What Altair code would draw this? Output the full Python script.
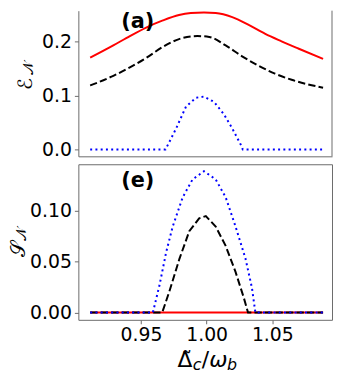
import altair as alt
import pandas as pd

# ---------------- data ----------------
top_red_x = [0.9114, 0.929, 0.9416, 0.954, 0.9667, 0.979, 0.988, 0.998, 1.0069, 1.0195, 1.032, 1.0446, 1.057, 1.0697, 1.0886]
top_red_y = [0.170, 0.1927, 0.210, 0.2258, 0.239, 0.249, 0.2525, 0.2535, 0.2526, 0.245, 0.2305, 0.214, 0.2003, 0.187, 0.1678]

top_black_x = [0.9114, 0.929, 0.9416, 0.954, 0.9667, 0.979, 0.993, 1.002, 1.0145, 1.027, 1.0396, 1.052, 1.0647, 1.0886]
top_black_y = [0.1185, 0.1364, 0.152, 0.1695, 0.190, 0.2044, 0.210, 0.2084, 0.1927, 0.1725, 0.155, 0.1404, 0.129, 0.1143]

top_blue_x = [0.9114, 0.9687, 0.9725, 0.9768, 0.9843, 0.9919, 0.998, 1.0057, 1.0132, 1.0195, 1.0258, 1.0275, 1.0886]
top_blue_y = [0.0, 0.0, 0.018, 0.0389, 0.0794, 0.0958, 0.098, 0.088, 0.065, 0.0389, 0.0098, 0.0, 0.0]

bot_red_x = [0.9114, 1.0886]
bot_red_y = [0.0, 0.0]

bot_black_x = [0.9114, 0.9662, 0.9717, 0.9793, 0.9868, 0.9943, 0.9994, 1.0069, 1.0145, 1.022, 1.0283, 1.0315, 1.0886]
bot_black_y = [0.0, 0.0, 0.021, 0.0529, 0.080, 0.0927, 0.0949, 0.0847, 0.0656, 0.040, 0.0146, 0.0, 0.0]

bot_blue_x = [0.9114, 0.9591, 0.9642, 0.9692, 0.9742, 0.9818, 0.9893, 0.998, 1.0069, 1.0145, 1.022, 1.0296, 1.0345, 1.0371, 1.0886]
bot_blue_y = [0.0, 0.0, 0.0273, 0.0593, 0.0847, 0.1134, 0.131, 0.139, 0.131, 0.1134, 0.0847, 0.0529, 0.0242, 0.0, 0.0]

x_ticks = [0.95, 1.00, 1.05]
top_y_ticks = [0.0, 0.1, 0.2]
bot_y_ticks = [0.0, 0.05, 0.10]

FONT = "DejaVu Sans"
FRAME = "#6b6b6b"
W = 256
H_TOP = 147
H_BOT = 157

x_scale = alt.Scale(domain=[0.9024, 1.0954], nice=False, zero=False)


def line(xs, ys, color, dash=None, interp="linear"):
    df = pd.DataFrame({"x": xs, "y": ys})
    kw = dict(color=color, strokeWidth=2, interpolate=interp, clip=True)
    if dash is not None:
        kw["strokeDash"] = dash
    return alt.Chart(df).mark_line(**kw)


def text(t, x, y, size, angle=0, bold=False, italic=False, align="center", baseline="middle"):
    kw = dict(text=t, font=FONT, fontSize=size, color="black", align=align, baseline=baseline)
    if angle:
        kw["angle"] = angle
    if bold:
        kw["fontWeight"] = "bold"
    if italic:
        kw["fontStyle"] = "italic"
    return alt.Chart(pd.DataFrame({"k": [0]})).mark_text(**kw).encode(x=alt.value(x), y=alt.value(y))


# ---------------- top panel ----------------
yt_scale = alt.Scale(domain=[-0.0127, 0.257], nice=False, zero=False)
x_enc_top = alt.X("x:Q", scale=x_scale,
                  axis=alt.Axis(values=x_ticks, labels=False, ticks=False, domain=True, title=None, grid=False))
y_enc_top = alt.Y("y:Q", scale=yt_scale,
                  axis=alt.Axis(values=top_y_ticks, format=".1f", title=None, grid=False, domain=True))

top_layers = [
    line(top_red_x, top_red_y, "#ff0000", interp="monotone").encode(x=x_enc_top, y=y_enc_top),
    line(top_black_x, top_black_y, "black", dash=[7.4, 3.2], interp="monotone").encode(x=x_enc_top, y=y_enc_top),
    line(top_blue_x, top_blue_y, "#0000ff", dash=[2, 3.3]).encode(x=x_enc_top, y=y_enc_top),
    alt.Chart(pd.DataFrame({"k": [0]})).mark_rule(color=FRAME, strokeWidth=1).encode(
        x=alt.value(W), y=alt.value(0), y2=alt.value(H_TOP)),
    text("(a)", 60, 0, 21, bold=True, baseline="top"),
    text("ℰ", -53, 74, 20, angle=270),
    text("𝒩", -50, 58, 14, angle=270),
]
top = alt.layer(*top_layers).properties(width=W, height=H_TOP, view=alt.ViewBackground(stroke="transparent"))

# ---------------- bottom panel ----------------
yb_scale = alt.Scale(domain=[-0.0071, 0.1459], nice=False, zero=False)
x_enc_bot = alt.X("x:Q", scale=x_scale,
                  axis=alt.Axis(values=x_ticks, format=".2f", title=None, grid=False, domain=False, labelPadding=2))
y_enc_bot = alt.Y("y:Q", scale=yb_scale,
                  axis=alt.Axis(values=bot_y_ticks, format=".2f", title=None, grid=False, domain=False))

bot_layers = [
    line(bot_red_x, bot_red_y, "#ff0000").encode(x=x_enc_bot, y=y_enc_bot),
    line(bot_black_x, bot_black_y, "black", dash=[7.4, 3.2]).encode(x=x_enc_bot, y=y_enc_bot),
    line(bot_blue_x, bot_blue_y, "#0000ff", dash=[2, 3.3]).encode(x=x_enc_bot, y=y_enc_bot),
    text("(e)", 60, 23, 21, bold=True, baseline="alphabetic"),
    text("𝒮", -60, 86, 20, angle=270),
    text("𝒩", -57, 71, 14, angle=270),
    # x-axis title  Δ̃_c / ω_b
    text("Δ\u0303", 100, 205, 22, align="left", baseline="alphabetic"),
    text("c", 115.5, 208, 16, italic=True, align="left", baseline="alphabetic"),
    text("/", 124.5, 205, 22, align="left", baseline="alphabetic"),
    text("ω", 132, 205, 22, italic=True, align="left", baseline="alphabetic"),
    text("b", 150, 208, 16, italic=True, align="left", baseline="alphabetic"),
]
bot = alt.layer(*bot_layers).properties(width=W, height=H_BOT, view=alt.ViewBackground(stroke=FRAME))

chart = alt.vconcat(top, bot, spacing=3).properties(padding=0).configure_axis(
    labelFont=FONT, labelFontSize=19, labelColor="black", tickColor=FRAME, domainColor=FRAME,
    tickSize=4, labelPadding=3, tickWidth=1, domainWidth=1,
).configure_view(strokeWidth=1)

chart.save("out.html", embed_options={"renderer": "svg", "actions": False})
